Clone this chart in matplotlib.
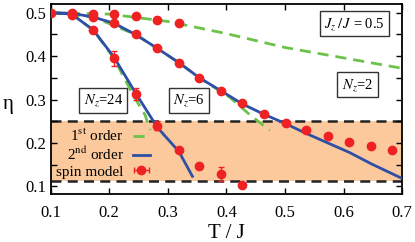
import matplotlib
matplotlib.use('Agg')
import matplotlib.pyplot as plt
from matplotlib.ticker import MultipleLocator
import numpy as np

plt.rcParams['font.family'] = ['Liberation Serif', 'DejaVu Serif']
plt.rcParams['mathtext.fontset'] = 'stix'

# spin model data (red points)
T_nz2 = [0.100, 0.136, 0.173, 0.208, 0.245, 0.282, 0.319]
eta_nz2 = [0.500, 0.499, 0.498, 0.497, 0.492, 0.483, 0.476]
T_nz6 = [0.136, 0.173, 0.208, 0.245, 0.282, 0.319, 0.354, 0.391, 0.427,
         0.464, 0.501, 0.536, 0.573, 0.610, 0.647, 0.683]
eta_nz6 = [0.494, 0.490, 0.476, 0.450, 0.418, 0.385, 0.349, 0.320, 0.291,
           0.266, 0.246, 0.229, 0.215, 0.203, 0.192, 0.183]
T_nz24 = [0.136, 0.173, 0.208, 0.245, 0.282, 0.319, 0.354, 0.391, 0.427]
eta_nz24 = [0.497, 0.460, 0.395, 0.313, 0.240, 0.184, 0.146, 0.129, 0.103]
err_nz24 = [0, 0, 0.018, 0.014, 0.010, 0, 0, 0.016, 0]

# 2nd order curves (blue)
T_2nd_nz6 = [0.1, 0.136, 0.173, 0.208, 0.245, 0.282, 0.319, 0.354, 0.391,
             0.427, 0.464, 0.5, 0.536, 0.573, 0.61, 0.647, 0.7]
eta_2nd_nz6 = [0.5, 0.499, 0.49, 0.476, 0.45, 0.418, 0.385, 0.35, 0.32,
               0.29, 0.266, 0.245, 0.222, 0.2, 0.178, 0.152, 0.118]
T_2nd_nz24 = [0.1, 0.136, 0.173, 0.208, 0.245, 0.282, 0.319, 0.342]
eta_2nd_nz24 = [0.5, 0.497, 0.46, 0.398, 0.315, 0.236, 0.18, 0.123]

# 1st order curves (green dashed)
T_1st_nz2 = [0.1, 0.2, 0.3, 0.4, 0.5, 0.6, 0.7]
eta_1st_nz2 = [0.5, 0.497, 0.48, 0.452, 0.42, 0.396, 0.372]
T_1st_nz6 = [0.1, 0.173, 0.245, 0.319, 0.356, 0.406, 0.44, 0.474]
eta_1st_nz6 = [0.5, 0.49, 0.45, 0.385, 0.348, 0.305, 0.265, 0.229]
T_1st_nz24 = [0.1, 0.136, 0.173, 0.208, 0.241, 0.261, 0.27]
eta_1st_nz24 = [0.5, 0.497, 0.46, 0.395, 0.31, 0.265, 0.23]

band = [0.113, 0.25]

red = '#ee2222'
blue = '#2f4fa6'
green = '#6cc24a'

fig = plt.figure(figsize=(4.15, 2.42), dpi=100)
ax = fig.add_axes([0.122, 0.198, 0.847, 0.785])

ax.axhspan(band[0], band[1], color='#fcc99c', zorder=0, lw=0)
for yb in band:
    ax.axhline(yb, color='#222222', ls=(0, (4, 2.5)), lw=1.8, zorder=1)

for T, e in [(T_1st_nz2, eta_1st_nz2), (T_1st_nz6, eta_1st_nz6), (T_1st_nz24, eta_1st_nz24)]:
    ax.plot(T, e, color=green, ls=(0, (4, 2.5)), lw=2, zorder=2)
ax.plot([], [], color=green, ls=(0, (4, 2.5)), lw=2, label='1$^{\\rm st}$ order')

for T, e in [(T_2nd_nz6, eta_2nd_nz6), (T_2nd_nz24, eta_2nd_nz24)]:
    ax.plot(T, e, color=blue, lw=2, zorder=3)
ax.plot([], [], color=blue, lw=2, label='2$^{\\rm nd}$ order')

ax.plot(T_nz2, eta_nz2, 'o', color=red, ms=6, zorder=4)
ax.plot(T_nz6, eta_nz6, 'o', color=red, ms=6, zorder=4)
ax.errorbar(T_nz24, eta_nz24, yerr=err_nz24, fmt='o', color=red, ms=6,
            capsize=2, elinewidth=1, zorder=4)
ax.errorbar([np.nan], [np.nan], xerr=[0.01], fmt='o', color=red, ms=6,
            capsize=2, elinewidth=1, label='spin model')

ax.legend(loc='center right', bbox_to_anchor=(0.312, 0.215), frameon=False,
          markerfirst=False, fontsize=11, handlelength=1.1,
          handletextpad=0.6, labelspacing=0.12, borderpad=0.2)

box = dict(boxstyle='square,pad=0.3', fc='white', ec='#333333', lw=1)
ax.text(0.19, 0.298, '$N_z$=24', ha='center', va='center', fontsize=10.5, bbox=box)
ax.text(0.336, 0.298, '$N_z$=6', ha='center', va='center', fontsize=10.5, bbox=box)
ax.text(0.624, 0.334, '$N_z$=2', ha='center', va='center', fontsize=10.5, bbox=box)
ax.text(0.619, 0.475, '$J_z\\,/\\,J$ = 0.5', ha='center', va='center', fontsize=10.5, bbox=box)

ax.set_xlim(0.1, 0.7)
ax.set_ylim(0.082, 0.52)
ax.xaxis.set_major_locator(MultipleLocator(0.1))
ax.yaxis.set_major_locator(MultipleLocator(0.1))
ax.yaxis.set_minor_locator(MultipleLocator(0.05))
ax.tick_params(which='both', direction='in', top=True, right=True, labelsize=12,
               length=4, width=1)
ax.tick_params(axis='x', pad=8)
for s in ax.spines.values():
    s.set_linewidth(1.3)

ax.set_xlabel('T / J', fontsize=15, labelpad=2)
ax.set_ylabel('η', fontsize=15, rotation=0)
ax.yaxis.set_label_coords(-0.12, 0.47)
ax.yaxis.label.set_va('center')

fig.savefig('out.png', dpi=100)
